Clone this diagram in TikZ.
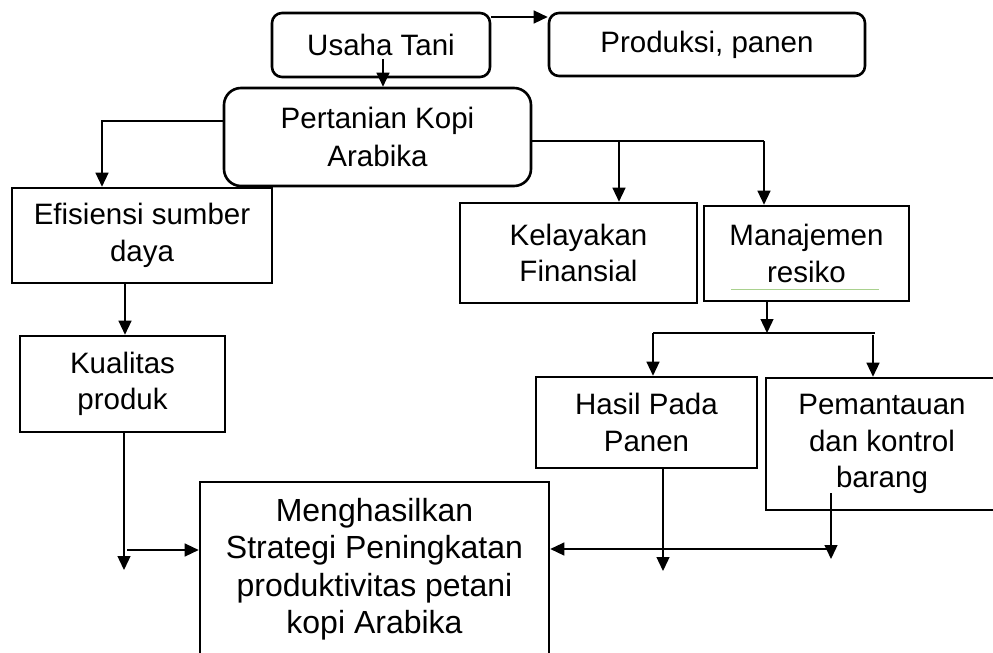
\documentclass[tikz,border=0pt]{standalone}
\usepackage{fontspec}
\setmainfont{Liberation Sans}
\usetikzlibrary{arrows.meta}
\definecolor{linegreen}{RGB}{169,209,142}
\begin{document}
\begin{tikzpicture}[x=1pt,y=-1pt,
  box/.style={draw, line width=2.6pt, align=center, inner sep=0pt,
              font=\fontsize{29.5}{36.5}\selectfont},
  rbox/.style={box, rounded corners=10pt},
  conn/.style={line width=1.3pt},
  arr/.style={conn, -{Triangle[length=14pt,width=13pt]}},
]
\useasboundingbox (0,0) rectangle (993,653);

% boxes
\node[rbox, minimum width=218pt, minimum height=64pt] (usaha) at (381,45) {Usaha Tani};
\node[rbox, minimum width=316pt, minimum height=63pt] (produksi) at (707,44.5) {Produksi, panen};
\node[box, rounded corners=17pt, minimum width=307pt, minimum height=98pt, text depth=0pt] (pertanian) at (377.5,137) {Pertanian Kopi\\[2pt]Arabika};
\node[box, minimum width=260pt, minimum height=95pt] (efisiensi) at (142,235.5) {Efisiensi sumber\\daya};
\node[box, minimum width=205pt, minimum height=96pt] (kualitas) at (122.5,384) {Kualitas\\produk};
\node[box, minimum width=237pt, minimum height=100pt] (kelayakan) at (578.5,253) {Kelayakan\\Finansial};
\node[box, minimum width=205pt, minimum height=95pt] (manajemen) at (806.5,253.5) {Manajemen\\resiko};
\node[box, minimum width=221pt, minimum height=91pt] (hasil) at (646.5,422.5) {Hasil Pada\\Panen};
\node[box, minimum width=232pt, minimum height=132pt] (pemantauan) at (882,444) {Pemantauan\\dan kontrol\\barang};
\node[box, minimum width=349pt, minimum height=174pt, font=\fontsize{32}{37.5}\selectfont] (mengh) at (374.5,569) {Menghasilkan\\Strategi Peningkatan\\produktivitas petani\\kopi Arabika};

% green line under "resiko"
\draw[linegreen, line width=0.8pt] (731,289) -- (879,289);

% coordinates
\coordinate (u1) at (383,59);
\coordinate (ue) at (490,17);
\coordinate (pw) at (224,121);
\coordinate (ex) at (102,121);
\coordinate (ek) at (125,283);
\coordinate (b1) at (764,141);
\coordinate (b2) at (619,141);
\coordinate (m1) at (767,333);
\coordinate (sl) at (653,333);
\coordinate (sr) at (875,333);
\coordinate (sr2) at (873,335);
\coordinate (kend) at (124,570);
\coordinate (kl) at (127,550);
\coordinate (hend) at (663,571);
\coordinate (ps) at (831,493);
\coordinate (pend) at (831,559);
\coordinate (hl) at (830,549);

% connectors
\draw[arr] (u1) -- (u1 |- pertanian.north);
\draw[arr] (usaha.east |- ue) -- (produksi.west |- ue);
\draw[arr] (pertanian.west |- pw) -- (ex) -- (ex |- efisiensi.north);
\draw[arr] (efisiensi.south -| ek) -- (ek |- kualitas.north);
\draw[conn] (pertanian.east |- b1) -- (b1);
\draw[arr] (b2) -- (b2 |- kelayakan.north);
\draw[arr] (b1) -- (b1 |- manajemen.north);
\draw[arr] (manajemen.south -| m1) -- (m1);
\draw[conn] (sl) -- (sr);
\draw[arr] (sl) -- (sl |- hasil.north);
\draw[arr] (sr2) -- (sr2 |- pemantauan.north);
\draw[arr] (kualitas.south -| kend) -- (kend);
\draw[arr] (kl) -- (kl -| mengh.west);
\draw[arr] (hasil.south -| hend) -- (hend);
\draw[arr] (ps) -- (pend);
\draw[arr] (hl) -- (hl -| mengh.east);
\end{tikzpicture}
\end{document}
